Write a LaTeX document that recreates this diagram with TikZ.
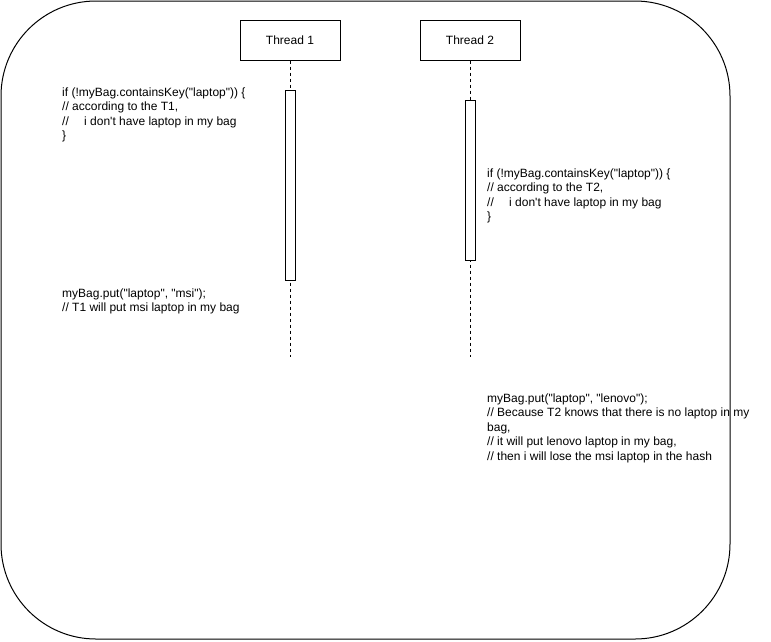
\documentclass[tikz,border=0pt]{standalone}
\usepackage{fontspec}
\setmainfont{Liberation Sans}[Ligatures=TeXOff]
\begin{document}
\begin{tikzpicture}[x=1pt,y=-1pt,
  every node/.style={font=\fontsize{12}{14.4}\selectfont},
  frame/.style={draw=black,line width=1pt,rounded corners=95pt},
  actor/.style={draw=black,fill=white,line width=1pt,minimum width=100pt,minimum height=40pt,inner sep=0pt},
  lifeline/.style={draw=black,line width=1pt,dash pattern=on 3pt off 3pt},
  activation/.style={draw=black,fill=white,line width=1pt,minimum width=10pt,inner sep=0pt},
  code/.style={align=left,anchor=north west,inner sep=0pt}]
\useasboundingbox (0,0) rectangle (771,641);
\draw[frame] (1,1) rectangle (730,639);
\node[actor] (t1) at (290,40) {Thread 1};
\node[actor] (t2) at (470,40) {Thread 2};
\coordinate (e1) at (290,357);
\coordinate (e2) at (470,357);
\draw[lifeline] (t1.south) -- (e1);
\draw[lifeline] (t2.south) -- (e2);
\node[activation,minimum height=190pt] (a1) at (290,185) {};
\node[activation,minimum height=160pt] (a2) at (470,180) {};
\node[code] (c1) at (62,87.5) {if (!myBag.containsKey("laptop")) \{\\// according to the T1,\\//\hspace{12pt} i don't have laptop in my bag\\\}};
\node[code] (c2) at (487,168.5) {if (!myBag.containsKey("laptop")) \{\\// according to the T2,\\//\hspace{12pt} i don't have laptop in my bag\\\}};
\node[code] (c3) at (62,288.5) {myBag.put("laptop", "msi");\\// T1 will put msi laptop in my bag};
\node[code] (c4) at (487,393.5) {myBag.put("laptop", "lenovo");\\// Because T2 knows that there is no laptop in my\\bag,\\// it will put lenovo laptop in my bag,\\// then i will lose the msi laptop in the hash};
\end{tikzpicture}
\end{document}
